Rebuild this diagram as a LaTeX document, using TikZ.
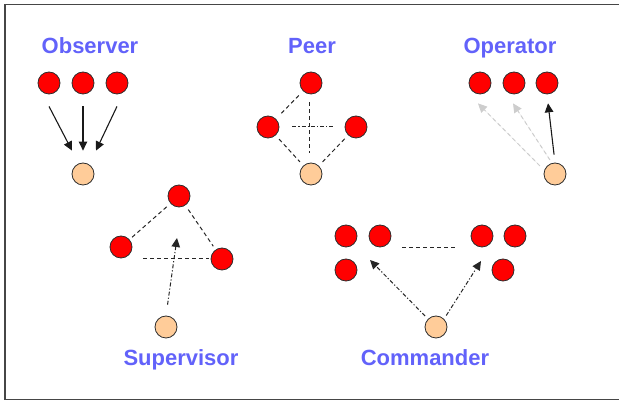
\documentclass[tikz,border=0pt]{standalone}
\usepackage{fontspec}
\setmainfont{Liberation Sans}
\usetikzlibrary{arrows.meta}
\definecolor{labelblue}{RGB}{98,98,250}
\definecolor{redfill}{RGB}{255,0,0}
\definecolor{peach}{RGB}{255,204,153}
\definecolor{rim}{RGB}{45,45,45}
\definecolor{frame}{RGB}{70,70,70}
\definecolor{ghost}{RGB}{205,205,205}
\begin{document}
\begin{tikzpicture}[x=1pt,y=1pt,
  agent/.style={circle,draw=rim,line width=0.8pt,fill=redfill,minimum size=22pt,inner sep=0pt},
  lead/.style={agent,fill=peach},
  title/.style={text=labelblue,font=\fontsize{22}{26}\selectfont\bfseries,anchor=base,inner sep=0pt},
  link/.style={line width=1pt,draw=black!85,dash pattern=on 4pt off 3pt},
  dotlink/.style={line width=1pt,draw=black!85,dash pattern=on 4pt off 2pt on 1.2pt off 2pt},
  tip/.style={-{Triangle[length=9pt,width=8.5pt]}},
  arr/.style={tip,line width=1.1pt,draw=black!90},
  faint/.style={tip,line width=1pt,draw=ghost,fill=ghost,dash pattern=on 4pt off 3pt},
]
\useasboundingbox (0,0) rectangle (619,401);
% open frame
\draw[frame,line width=1.6pt] (619,396.5) -- (4.8,396.5) -- (4.8,1.5) -- (619,1.5);

% Observer
\node[title] (tObs) at (90,347) {Observer};
\node[agent] (obA) at (49,318) {};
\node[agent] (obB) at (83,318) {};
\node[agent] (obC) at (117,318) {};
\node[lead]  (obO) at (83,227) {};
\draw[arr] ([yshift=-12pt]obA.south) -- ([shift={(-11pt,12pt)}]obO.north);
\draw[arr] ([yshift=-12pt]obB.south) -- ([yshift=12pt]obO.north);
\draw[arr] ([yshift=-12pt]obC.south) -- ([shift={(13pt,12pt)}]obO.north);

% Peer
\node[title] (tPeer) at (312,347) {Peer};
\node[agent] (peT) at (311,318) {};
\node[agent] (peL) at (268,274) {};
\node[agent] (peR) at (356,274) {};
\node[lead]  (peO) at (311,227) {};
\draw[link,shorten <=6pt,shorten >=6pt] (peT) -- (peL);
\draw[link,shorten <=8pt,shorten >=10pt] ([xshift=-2pt]peT.south) -- ([xshift=-2pt]peO.north);
\draw[dotlink,shorten <=13pt,shorten >=10pt] (peL.east) -- (peR.west);
\draw[link,shorten <=5pt,shorten >=5pt] (peL) -- (peO);
\draw[link,shorten <=5pt,shorten >=4pt] (peR) -- (peO);

% Operator
\node[title] (tOp) at (510,347) {Operator};
\node[agent] (opA) at (480,318) {};
\node[agent] (opB) at (514,318) {};
\node[agent] (opC) at (547,318) {};
\node[lead]  (opO) at (555,227) {};
\draw[faint] ([xshift=-7pt]opO.north west) -- ([xshift=-2pt,yshift=-9pt]opA.south);
\draw[faint] ([shift={(3pt,6pt)}]opO.north west) -- ([xshift=-1pt,yshift=-9pt]opB.south);
\draw[arr,shorten <=8pt,shorten >=9pt] (opO.north) -- (opC.south);

% Supervisor
\node[title] (tSup) at (181,35) {Supervisor};
\node[agent] (suT) at (179,205) {};
\node[agent] (suL) at (121,154) {};
\node[agent] (suR) at (222,142) {};
\node[lead]  (suO) at (166,74) {};
\coordinate (suC) at (177,163);
\draw[link,shorten <=5pt,shorten >=3pt] (suT) -- (suL);
\draw[link,shorten <=5pt,shorten >=4pt] (suT) -- (suR);
\draw[link,shorten <=11pt,shorten >=2pt] (suL.east |- suR.west) -- (suR.west);
\draw[dotlink,tip,shorten <=11pt] (suO.north) -- (suC);

% Commander
\node[title] (tCmd) at (425,35) {Commander};
\node[agent] (cmA) at (346,165) {};
\node[agent] (cmB) at (380,165) {};
\node[agent] (cmC) at (346,131) {};
\node[agent] (cmD) at (482,165) {};
\node[agent] (cmE) at (515,165) {};
\node[agent] (cmF) at (503,131) {};
\node[lead]  (cmO) at (436,74) {};
\coordinate (cmL) at (370,141);
\coordinate (cmR) at (481,140);
\draw[link,shorten <=11pt,shorten >=13pt] ([yshift=-12pt]cmB.east) -- ([yshift=-12pt]cmD.west);
\draw[dotlink,tip,shorten <=4pt] (cmO.north west) -- (cmL);
\draw[dotlink,tip,shorten <=4pt] (cmO.north east) -- (cmR);
\end{tikzpicture}
\end{document}
